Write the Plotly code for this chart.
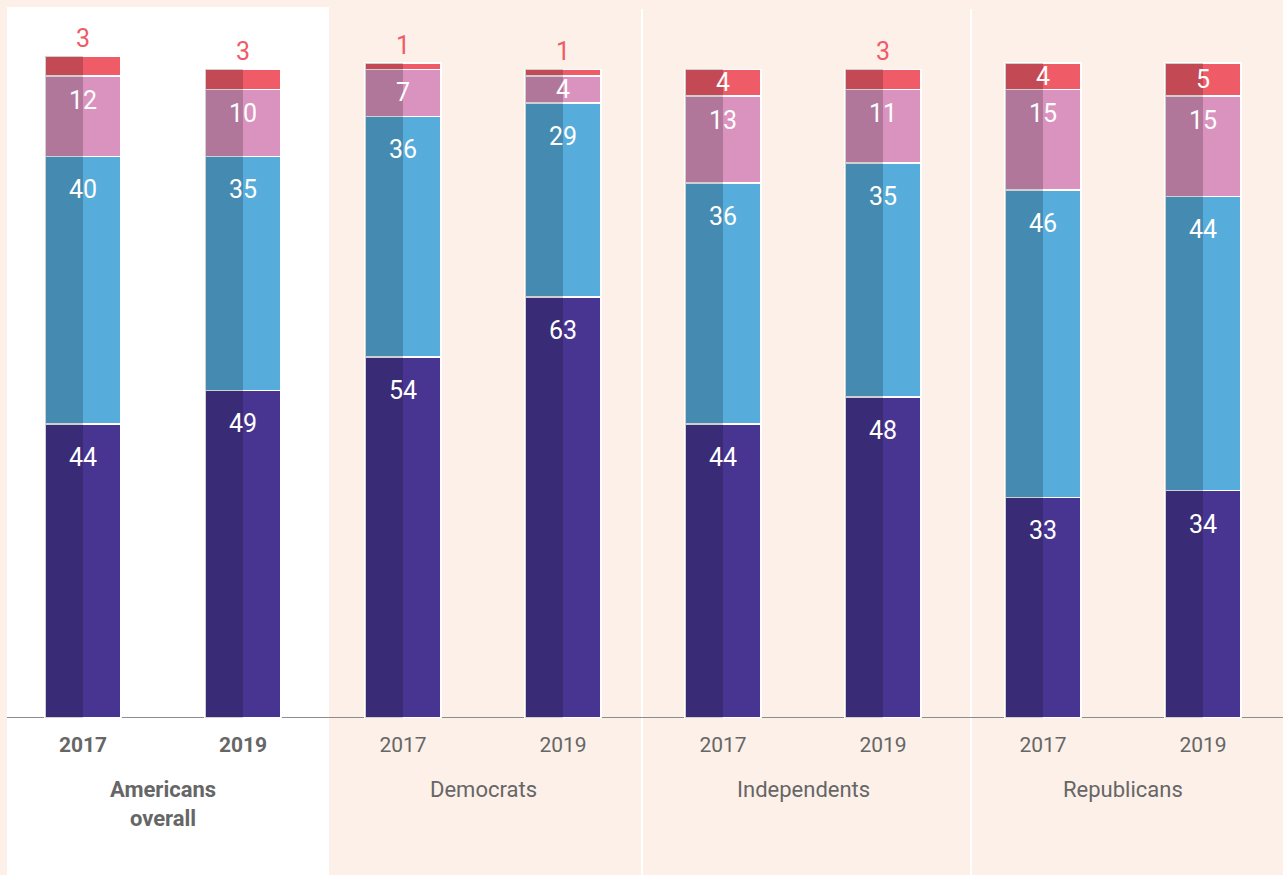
import plotly.graph_objects as go

# データ
groups = ["Americans overall", "Democrats", "Independents", "Republicans"]
years = ["2017", "2019"]

# 下から順に積み上げ
purple = [44, 49, 54, 63, 44, 48, 33, 34]
blue = [40, 35, 36, 29, 36, 35, 46, 44]
pink = [12, 10, 7, 4, 13, 11, 15, 15]
red = [3, 3, 1, 1, 4, 3, 4, 5]

series = [
    ("purple", purple, "#483592"),
    ("blue", blue, "#56acdb"),
    ("pink", pink, "#d993be"),
    ("red", red, "#f05b68"),
]

bar_ids = [f"{g} {y}" for g in groups for y in years]
tick_text = [f"<b>{y}</b>" if g == groups[0] else y for g in groups for y in years]

FONT = "Roboto, Arial, sans-serif"
GRAY = "#666666"
BG = "#fdf0e8"

fig = go.Figure()

for name, vals, color in series:
    fig.add_trace(go.Bar(
        x=bar_ids, y=vals, name=name,
        marker=dict(color=color, line=dict(color="white", width=1.5)),
        width=0.475,
        hoverinfo="skip",
    ))

# 左半分を暗くする
totals = [sum(v) for v in zip(purple, blue, pink, red)]
fig.add_trace(go.Bar(
    x=bar_ids, y=totals, xaxis="x2",
    marker=dict(color="rgba(0,0,0,0.19)", line=dict(width=0)),
    width=0.2375, offset=-0.2375,
    hoverinfo="skip",
))

# 数値ラベル
annotations = []
for i, bid in enumerate(bar_ids):
    cum = 0
    for name, vals, color in series:
        v = vals[i]
        cum += v
        if name == "red" and v <= 3:
            annotations.append(dict(
                x=bid, y=cum, xref="x", yref="y", text=str(v), showarrow=False,
                yanchor="bottom", yshift=1,
                font=dict(family=FONT, size=25, color="#f05b68"),
            ))
        else:
            drop = min(5.0, v / 2) if v >= 20 else min(3.6, v / 2)
            annotations.append(dict(
                x=bid, y=cum - drop, xref="x", yref="y", text=str(v),
                showarrow=False, yanchor="middle",
                font=dict(family=FONT, size=25, color="white"),
            ))

# グループ名
for k, g in enumerate(groups):
    label = "Americans<br>overall" if k == 0 else g
    if k == 0:
        label = "<b>" + label + "</b>"
    annotations.append(dict(
        x=2 * k + 0.5, y=-0.081, xref="x", yref="paper", text=label,
        showarrow=False, yanchor="top",
        font=dict(family=FONT, size=22, color=GRAY),
    ))

shapes = [
    dict(type="rect", xref="x", yref="paper", x0=-0.475, x1=1.5375, y0=-0.23, y1=1.0128,
         fillcolor="white", line=dict(width=0), layer="below"),
    dict(type="line", xref="x", yref="paper", x0=3.494, x1=3.494, y0=-0.23, y1=1.01,
         line=dict(color="white", width=2), layer="below"),
    dict(type="line", xref="x", yref="paper", x0=5.55, x1=5.55, y0=-0.23, y1=1.01,
         line=dict(color="white", width=2), layer="below"),
    dict(type="line", xref="x", yref="y", x0=-0.475, x1=7.5, y0=0, y1=0,
         line=dict(color="#8c8c8c", width=2), layer="below"),
]

fig.update_layout(
    width=1283, height=875,
    margin=dict(l=3, r=0, t=16, b=157),
    barmode="stack",
    showlegend=False,
    paper_bgcolor=BG,
    plot_bgcolor="rgba(0,0,0,0)",
    annotations=annotations,
    shapes=shapes,
    xaxis=dict(
        type="category", range=[-0.5, 7.5],
        tickvals=bar_ids, ticktext=tick_text,
        showgrid=False, zeroline=False, showline=False, ticks="",
        ticklabelstandoff=12,
        tickfont=dict(family=FONT, size=21, color=GRAY),
    ),
    xaxis2=dict(
        type="category", range=[-0.5, 7.5], overlaying="x",
        showticklabels=False, showgrid=False, zeroline=False,
    ),
    yaxis=dict(range=[0, 105], visible=False),
)

# ページの余白をなくす
fig.write_html(
    "out.html",
    config=dict(displayModeBar=False),
    post_script="document.body.style.margin='0';document.body.style.background='%s';" % BG,
)
